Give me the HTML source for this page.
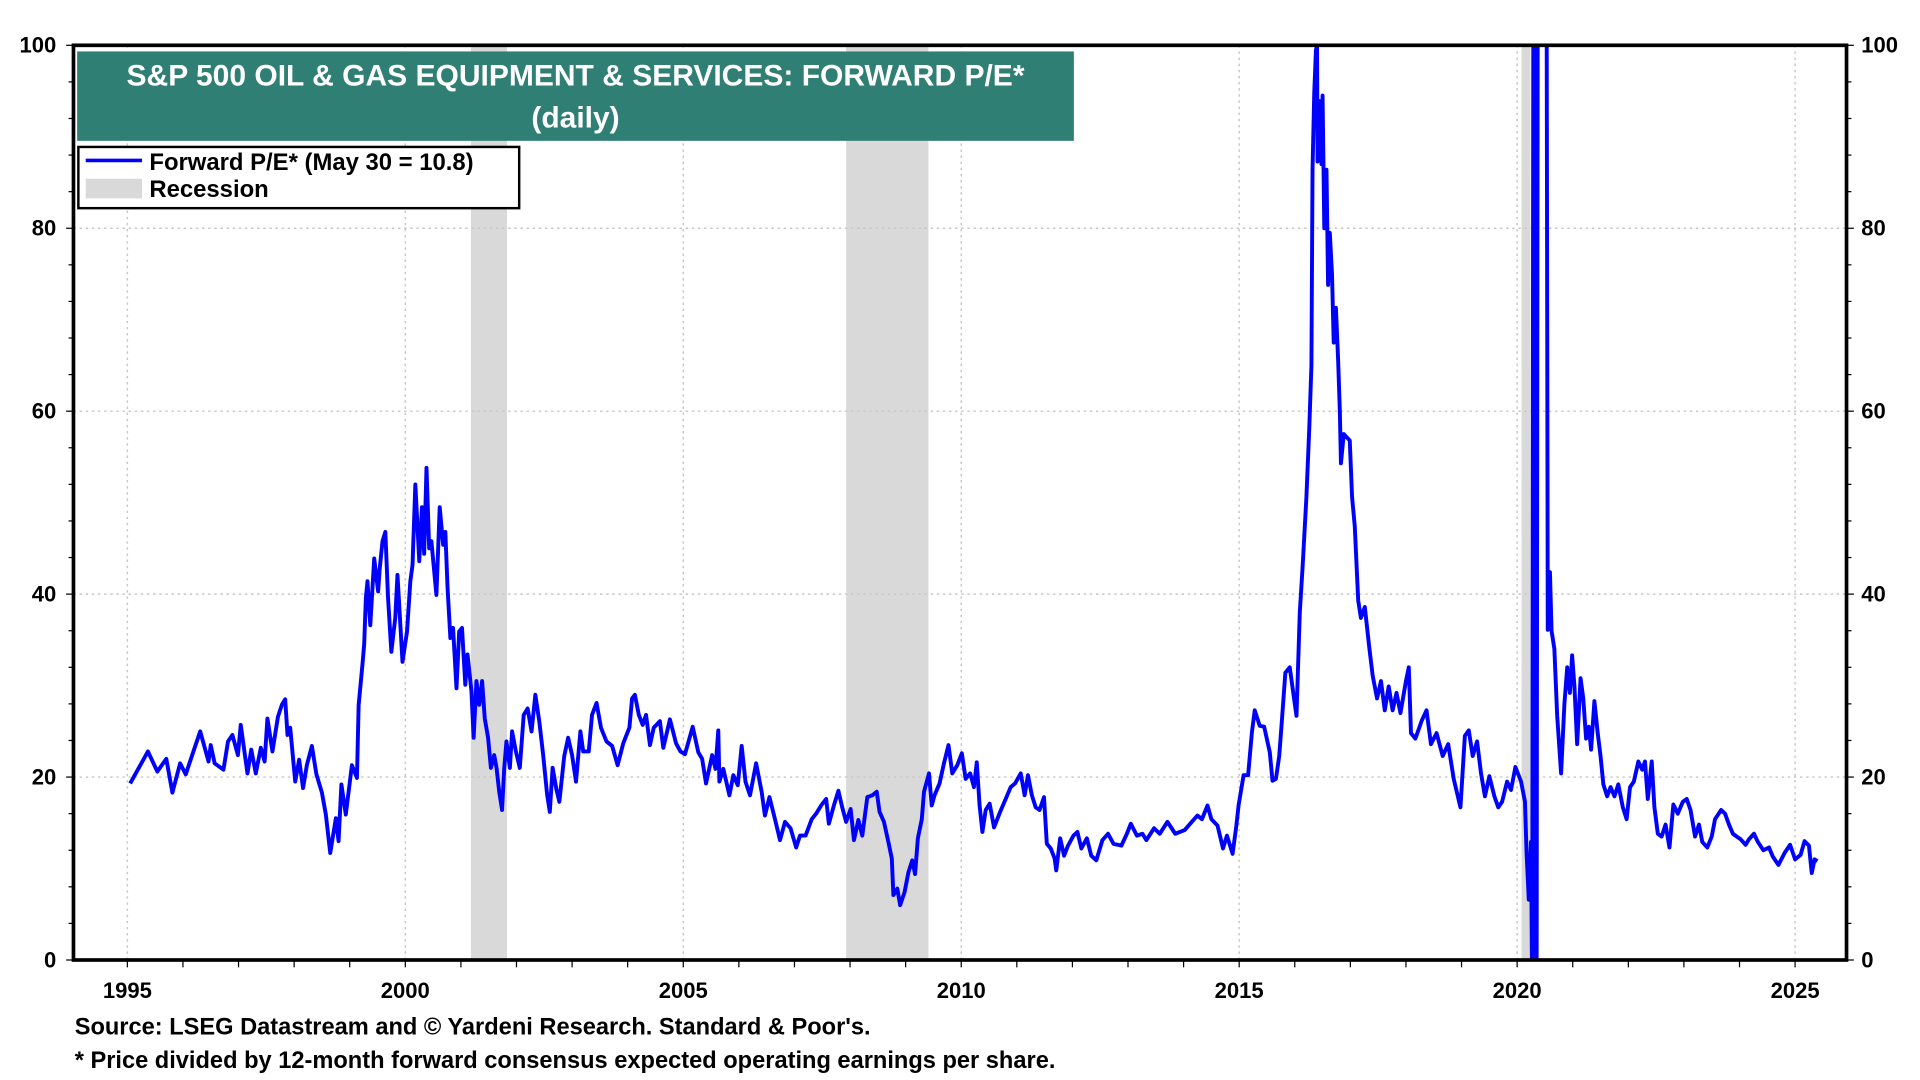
<!DOCTYPE html>
<html><head><meta charset="utf-8"><style>
html,body{margin:0;padding:0;background:#fff;width:1920px;height:1080px;overflow:hidden;}
svg{display:block;font-family:"Liberation Sans",Arial,sans-serif;font-weight:bold;}
</style></head><body>
<svg id="chart" width="1920" height="1080" viewBox="0 0 1568 882" xmlns="http://www.w3.org/2000/svg">
<defs><clipPath id="plotclip"><rect x="60" y="37" width="1448" height="747"/></clipPath></defs>
<g id="bands"></g>
<g id="grid"></g>
<g id="series" clip-path="url(#plotclip)"></g>
<rect x="60" y="37" width="1448" height="747" fill="none" stroke="#000" stroke-width="3"/>
<g id="axes"></g>
<g>
<rect x="63" y="42" width="814" height="73" fill="#307f74"/>
<text x="470" y="70" text-anchor="middle" fill="#fff" font-size="24.5">S&amp;P 500 OIL &amp; GAS EQUIPMENT &amp; SERVICES: FORWARD P/E*</text>
<text x="470" y="104" text-anchor="middle" fill="#fff" font-size="24.5">(daily)</text>
</g>
<g>
<rect x="64" y="120" width="360" height="50" fill="#fff" stroke="#000" stroke-width="2"/>
<line x1="70" y1="131" x2="116" y2="131" stroke="#0000ff" stroke-width="3"/>
<text x="122" y="139" font-size="19.5">Forward P/E* (May 30 = 10.8)</text>
<rect x="70" y="146" width="46" height="16" fill="#d9d9d9"/>
<text x="122" y="161" font-size="19.5">Recession</text>
</g>
<text x="61" y="845" font-size="19.3">Source: LSEG Datastream and © Yardeni Research. Standard &amp; Poor's.</text>
<text x="61" y="872" font-size="19.3">* Price divided by 12-month forward consensus expected operating earnings per share.</text>
</svg>
<script>
const dates=[1995.05,1995.37,1995.54,1995.7,1995.81,1995.95,1996.05,1996.16,1996.31,1996.46,1996.5,1996.57,1996.73,1996.81,1996.89,1996.99,1997.04,1997.16,1997.23,1997.31,1997.4,1997.47,1997.52,1997.61,1997.71,1997.78,1997.84,1997.88,1997.93,1998.02,1998.09,1998.16,1998.23,1998.32,1998.4,1998.5,1998.57,1998.65,1998.75,1998.8,1998.85,1998.93,1999.04,1999.13,1999.16,1999.23,1999.26,1999.29,1999.32,1999.37,1999.44,1999.51,1999.54,1999.59,1999.64,1999.69,1999.75,1999.82,1999.86,1999.95,2000.03,2000.09,2000.13,2000.18,2000.25,2000.3,2000.34,2000.38,2000.43,2000.47,2000.56,2000.62,2000.68,2000.72,2000.76,2000.81,2000.86,2000.92,2000.97,2001.02,2001.08,2001.12,2001.19,2001.23,2001.28,2001.33,2001.38,2001.43,2001.49,2001.54,2001.6,2001.64,2001.69,2001.74,2001.78,2001.82,2001.88,2001.92,2001.99,2002.06,2002.13,2002.2,2002.27,2002.34,2002.41,2002.48,2002.55,2002.6,2002.65,2002.72,2002.77,2002.86,2002.93,2003.0,2003.07,2003.15,2003.2,2003.3,2003.36,2003.44,2003.52,2003.62,2003.72,2003.82,2003.92,2004.03,2004.08,2004.13,2004.2,2004.27,2004.33,2004.4,2004.47,2004.58,2004.64,2004.76,2004.87,2004.95,2005.03,2005.17,2005.27,2005.34,2005.41,2005.52,2005.58,2005.63,2005.65,2005.72,2005.83,2005.9,2005.98,2006.05,2006.12,2006.2,2006.31,2006.41,2006.47,2006.55,2006.65,2006.74,2006.83,2006.93,2007.03,2007.1,2007.2,2007.31,2007.39,2007.48,2007.57,2007.62,2007.71,2007.79,2007.86,2007.93,2008.01,2008.07,2008.15,2008.22,2008.31,2008.4,2008.48,2008.53,2008.61,2008.69,2008.75,2008.78,2008.85,2008.9,2008.98,2009.05,2009.12,2009.17,2009.22,2009.29,2009.33,2009.42,2009.47,2009.52,2009.61,2009.69,2009.77,2009.84,2009.93,2010.01,2010.08,2010.16,2010.23,2010.28,2010.33,2010.38,2010.44,2010.51,2010.59,2010.7,2010.8,2010.89,2010.97,2011.07,2011.14,2011.2,2011.27,2011.34,2011.41,2011.49,2011.54,2011.61,2011.68,2011.71,2011.78,2011.85,2011.92,2012.02,2012.09,2012.16,2012.26,2012.34,2012.43,2012.54,2012.64,2012.74,2012.88,2012.98,2013.05,2013.16,2013.26,2013.33,2013.47,2013.57,2013.71,2013.85,2014.02,2014.12,2014.25,2014.33,2014.43,2014.5,2014.61,2014.71,2014.78,2014.88,2014.95,2014.99,2015.08,2015.16,2015.23,2015.28,2015.37,2015.45,2015.55,2015.6,2015.66,2015.72,2015.77,2015.83,2015.91,2016.0,2016.03,2016.09,2016.14,2016.21,2016.26,2016.3,2016.32,2016.35,2016.38,2016.4,2016.41,2016.45,2016.48,2016.5,2016.53,2016.57,2016.6,2016.63,2016.67,2016.7,2016.74,2016.78,2016.81,2016.83,2016.88,2016.99,2017.03,2017.08,2017.14,2017.19,2017.26,2017.34,2017.4,2017.48,2017.55,2017.62,2017.69,2017.76,2017.83,2017.9,2018.0,2018.05,2018.09,2018.17,2018.28,2018.37,2018.45,2018.55,2018.66,2018.76,2018.86,2018.98,2019.06,2019.13,2019.2,2019.28,2019.35,2019.42,2019.5,2019.59,2019.66,2019.73,2019.82,2019.89,2019.97,2020.07,2020.14,2020.17,2020.21,2020.25,2020.27,2020.29,2020.31,2020.33,2020.35,2020.37,2020.38,2020.53,2020.55,2020.59,2020.62,2020.67,2020.72,2020.79,2020.85,2020.9,2020.95,2020.99,2021.03,2021.08,2021.14,2021.19,2021.24,2021.29,2021.33,2021.39,2021.45,2021.5,2021.55,2021.62,2021.68,2021.75,2021.82,2021.9,2021.97,2022.03,2022.1,2022.18,2022.25,2022.3,2022.35,2022.42,2022.47,2022.53,2022.6,2022.67,2022.74,2022.81,2022.89,2022.98,2023.05,2023.12,2023.2,2023.27,2023.33,2023.42,2023.5,2023.56,2023.67,2023.74,2023.81,2023.88,2023.95,2024.02,2024.11,2024.17,2024.26,2024.33,2024.43,2024.53,2024.6,2024.7,2024.81,2024.91,2025.0,2025.1,2025.17,2025.25,2025.3,2025.35,2025.4];
const values=[19.3,22.8,20.6,22,18.3,21.5,20.3,22.3,25,21.7,23.5,21.5,20.8,23.9,24.6,22.4,25.7,20.4,23,20.4,23.2,21.7,26.4,22.8,26.6,27.9,28.5,24.6,25.4,19.5,21.9,18.8,21.3,23.4,20.3,18.3,15.9,11.7,15.5,13,19.2,15.9,21.3,19.9,27.9,32.3,34.5,39.6,41.4,36.6,43.9,40.3,42.8,45.8,46.8,39.6,33.7,37.4,42.1,32.6,35.9,41.4,43.2,52,43.6,49.5,44.4,53.8,45,45.8,39.9,49.5,45.4,46.8,40.7,35.2,36.3,29.7,35.9,36.3,30.1,33.4,29.4,24.3,30.5,27.9,30.5,26.4,24.3,21,22.4,21,18.4,16.4,21,23.9,21,25,22.8,21,26.8,27.5,25,29,26.1,22.4,18.1,16.2,21,18.6,17.3,22.3,24.3,22.4,19.5,25,22.8,22.8,26.8,28.1,25.4,23.9,23.4,21.3,23.7,25.4,28.6,29,26.8,25.7,26.8,23.5,25.4,26.1,23.2,26.3,23.7,22.8,22.5,25.5,22.7,22,19.3,22.4,20.9,25.1,19.5,20.9,18,20.2,19.1,23.4,19.5,18,21.5,18.4,15.8,17.8,15.4,13.1,15.1,14.4,12.3,13.6,13.6,15.4,16,16.9,17.6,14.9,16.9,18.5,16.7,15.1,16.5,13.1,15.3,13.6,17.8,18,18.4,16.2,15.1,12.9,11.1,7.1,7.8,6,7.4,9.6,10.9,9.4,13.3,15.4,18.4,20.4,16.9,18,19.3,21.5,23.5,20.4,21.3,22.6,19.8,20.4,18.9,21.6,16.9,14,16.4,17.1,14.5,16.2,17.6,18.9,19.3,20.4,18,20.2,18,16.7,16.4,17.8,12.7,12.2,11.1,9.8,13.3,11.4,12.5,13.6,14,12.2,13.3,11.4,10.9,13.1,13.8,12.7,12.5,13.8,14.9,13.6,13.8,13.1,14.4,13.8,15.1,13.8,14.2,14.9,15.8,15.4,16.9,15.4,14.7,12.2,13.6,11.6,14.7,16.9,20.2,20.2,24.9,27.3,25.6,25.5,22.7,19.6,19.8,22.3,26.4,31.4,32,28,26.7,38,43,50.6,58,65,86.4,94.8,99.5,100,87.3,93.9,87,94.5,80,86.4,73.8,79.5,75,67.5,71.3,65.6,60,54.3,57.5,56.8,50.6,47.4,39.3,37.4,38.6,34.2,31.1,28.6,30.5,27.3,29.9,27.3,29.2,27,30.5,32,24.8,24.2,26.1,27.3,23.6,24.8,22.3,23.6,19.8,16.7,24.5,25.1,22.3,23.9,20.4,17.9,20.1,17.9,16.7,17.3,19.5,18.6,21.1,19.5,17.3,11.7,6.6,12.9,-4,104,-4,104,-4,104,104,104,36.1,42.4,36,34,26.7,20.4,28,32,29.2,33.3,29.9,23.6,30.8,28.6,24.2,25.5,23,28.3,24.8,22.3,19.2,17.9,18.9,17.9,19.2,16.7,15.4,18.9,19.5,21.7,20.8,21.7,17.6,21.7,16.7,13.8,13.5,14.8,12.3,17,16,17.3,17.6,16.4,13.5,14.8,12.9,12.3,13.5,15.4,16.4,16,14.8,13.8,13.5,13.2,12.6,13.2,13.8,12.9,12,12.3,11.3,10.4,11.7,12.6,11,11.5,13,12.5,9.5,11,10.8];
const recStart=[2001.18,2007.93,2020.08];
const recEnd=[2001.83,2009.41,2020.24];
const yTicks=[0,20,40,60,80,100];
const xTickYears=[1995,2000,2005,2010,2015,2020,2025];

const NS="http://www.w3.org/2000/svg";
const X0=60,X1=1508,Y0=37,Y1=784;
function xs(t){return 104+(t-1995)*45.4;}
function ys(v){return Y1-(v/100)*(Y1-Y0);}
function mk(tag,attrs,parent){const e=document.createElementNS(NS,tag);for(const k in attrs)e.setAttribute(k,attrs[k]);parent.appendChild(e);return e;}

const bands=document.getElementById('bands');
for(let i=0;i<recStart.length;i++){
  const r=mk('rect',{x:xs(recStart[i]),y:Y0,width:xs(recEnd[i])-xs(recStart[i]),height:Y1-Y0,fill:'#d9d9d9'},bands);
  
  
}
const grid=document.getElementById('grid');
yTicks.forEach(v=>{ if(v>0&&v<100){const l=mk('line',{x1:X0,x2:X1,y1:ys(v),y2:ys(v),stroke:'#c8c8c8','stroke-width':1.2,'stroke-dasharray':'2,3'},grid);
  
  }});
xTickYears.forEach(t=>{const l=mk('line',{x1:xs(t),x2:xs(t),y1:Y0,y2:Y1,stroke:'#c8c8c8','stroke-width':1.2,'stroke-dasharray':'2,3'},grid);
  
  });

const series=document.getElementById('series');
let d='';
for(let i=0;i<dates.length;i++){d+=(i?'L':'M')+xs(dates[i]).toFixed(1)+','+ys(values[i]).toFixed(1);}
const p=mk('path',{d:d,fill:'none',stroke:'#0000ff','stroke-width':3.2,'stroke-linejoin':'round'},series);



const axes=document.getElementById('axes');
for(let v=0;v<=100;v+=4){
  const major=v%20===0; const len=major?6:4;
  mk('line',{x1:X0-len,x2:X0,y1:ys(v),y2:ys(v),stroke:'#000','stroke-width':1},axes);
  mk('line',{x1:X1,x2:X1+len,y1:ys(v),y2:ys(v),stroke:'#000','stroke-width':1},axes);
}
yTicks.forEach(v=>{
  const a=mk('text',{x:X0-14,y:ys(v)+6,'text-anchor':'end','font-size':18},axes);a.textContent=v;
  
  
  const b=mk('text',{x:X1+12,y:ys(v)+6,'text-anchor':'start','font-size':18},axes);b.textContent=v;
  
  
});
for(let t=1994;t<=2026;t++){const x=xs(t);if(x<X0||x>X1)continue;mk('line',{x1:x,x2:x,y1:Y1,y2:Y1+6,stroke:'#000','stroke-width':1},axes);}
xTickYears.forEach(t=>{const a=mk('text',{x:xs(t),y:Y1+31,'text-anchor':'middle','font-size':18},axes);a.textContent=t;
  
  });
</script>
</body></html>
